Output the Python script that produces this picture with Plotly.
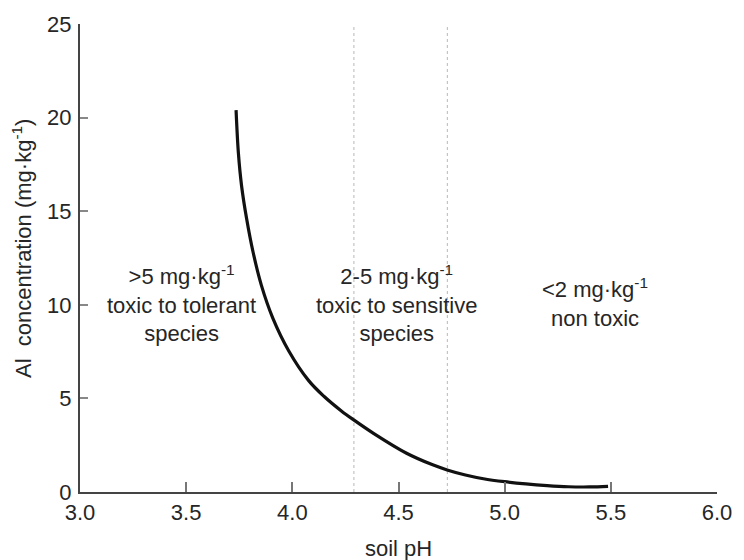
import plotly.graph_objects as go

# Data
soil_ph = [3.735, 3.746, 3.761, 3.785, 3.815, 3.854, 3.908, 3.984, 4.077, 4.15,
           4.231, 4.288, 4.384, 4.538, 4.661, 4.729, 4.815, 4.9, 5.0, 5.1,
           5.2, 5.3, 5.4, 5.487]
al_conc = [20.4, 18.1, 16.35, 14.58, 12.82, 11.05, 9.29, 7.52, 5.95, 5.1,
           4.33, 3.86, 3.12, 2.07, 1.45, 1.18, 0.91, 0.71, 0.55, 0.43,
           0.34, 0.28, 0.27, 0.30]

zone_bounds = [4.29, 4.73]

x_ticks = [3.0, 3.5, 4.0, 4.5, 5.0, 5.5, 6.0]
x_ticklabels = ["3.0", "3.5", "4.0", "4.5", "5.0", "5.5", "6.0"]
y_ticks = [0, 5, 10, 15, 20, 25]

zone_label_x = [3.48, 4.49, 5.427]
zone_label_y = [10.05, 10.05, 10.14]
zone_labels = [
    ">5 mg·kg<sup>-1</sup><br>toxic to tolerant<br>species",
    "2-5 mg·kg<sup>-1</sup><br>toxic to sensitive<br>species",
    "<2 mg·kg<sup>-1</sup><br>non toxic",
]

FONT = "Liberation Sans, Arial, Helvetica, sans-serif"
TXT = "#262626"
FS = 22

fig = go.Figure()

for xb in zone_bounds:
    fig.add_trace(go.Scatter(
        x=[xb, xb], y=[0, 24.9], mode="lines",
        line=dict(color="#b8b8b8", width=1, dash="dot"),
        hoverinfo="skip", showlegend=False))

fig.add_trace(go.Scatter(
    x=soil_ph, y=al_conc, mode="lines",
    line=dict(color="#111111", width=3.2, shape="spline", smoothing=1.0),
    showlegend=False))

for xx, yy, tt in zip(zone_label_x, zone_label_y, zone_labels):
    fig.add_annotation(x=xx, y=yy, xref="x", yref="y", text=tt,
                       showarrow=False, xanchor="center", yanchor="middle",
                       align="center",
                       font=dict(family=FONT, size=FS, color=TXT))

fig.add_annotation(x=-0.092, y=0.52, xref="paper", yref="paper",
                   text="Al  concentration (mg·kg<sup>-1</sup>)", textangle=-90,
                   showarrow=False, xanchor="center", yanchor="middle",
                   font=dict(family=FONT, size=FS, color=TXT))
fig.add_annotation(x=0.5, y=-0.121, xref="paper", yref="paper",
                   text="soil pH", showarrow=False, xanchor="center", yanchor="middle",
                   font=dict(family=FONT, size=FS, color=TXT))

fig.update_layout(
    width=744, height=560,
    margin=dict(l=80, r=16, t=20, b=68),
    paper_bgcolor="white", plot_bgcolor="white",
    font=dict(family=FONT, size=FS, color=TXT),
)
fig.update_xaxes(
    range=[3.0, 6.0], tickvals=x_ticks, ticktext=x_ticklabels,
    showgrid=False, zeroline=False, showline=True, linecolor="#444444", linewidth=2,
    ticks="inside", ticklen=10, tickwidth=1.5, tickcolor="#777777",
    ticklabelstandoff=0,
    tickfont=dict(family=FONT, size=FS, color=TXT))
fig.update_yaxes(
    range=[0, 25], tickvals=y_ticks,
    showgrid=False, zeroline=False, showline=True, linecolor="#444444", linewidth=2,
    ticks="inside", ticklen=8, tickwidth=1.5, tickcolor="#888888",
    ticklabelstandoff=2,
    tickfont=dict(family=FONT, size=FS, color=TXT))

fig.write_html("out.html")
